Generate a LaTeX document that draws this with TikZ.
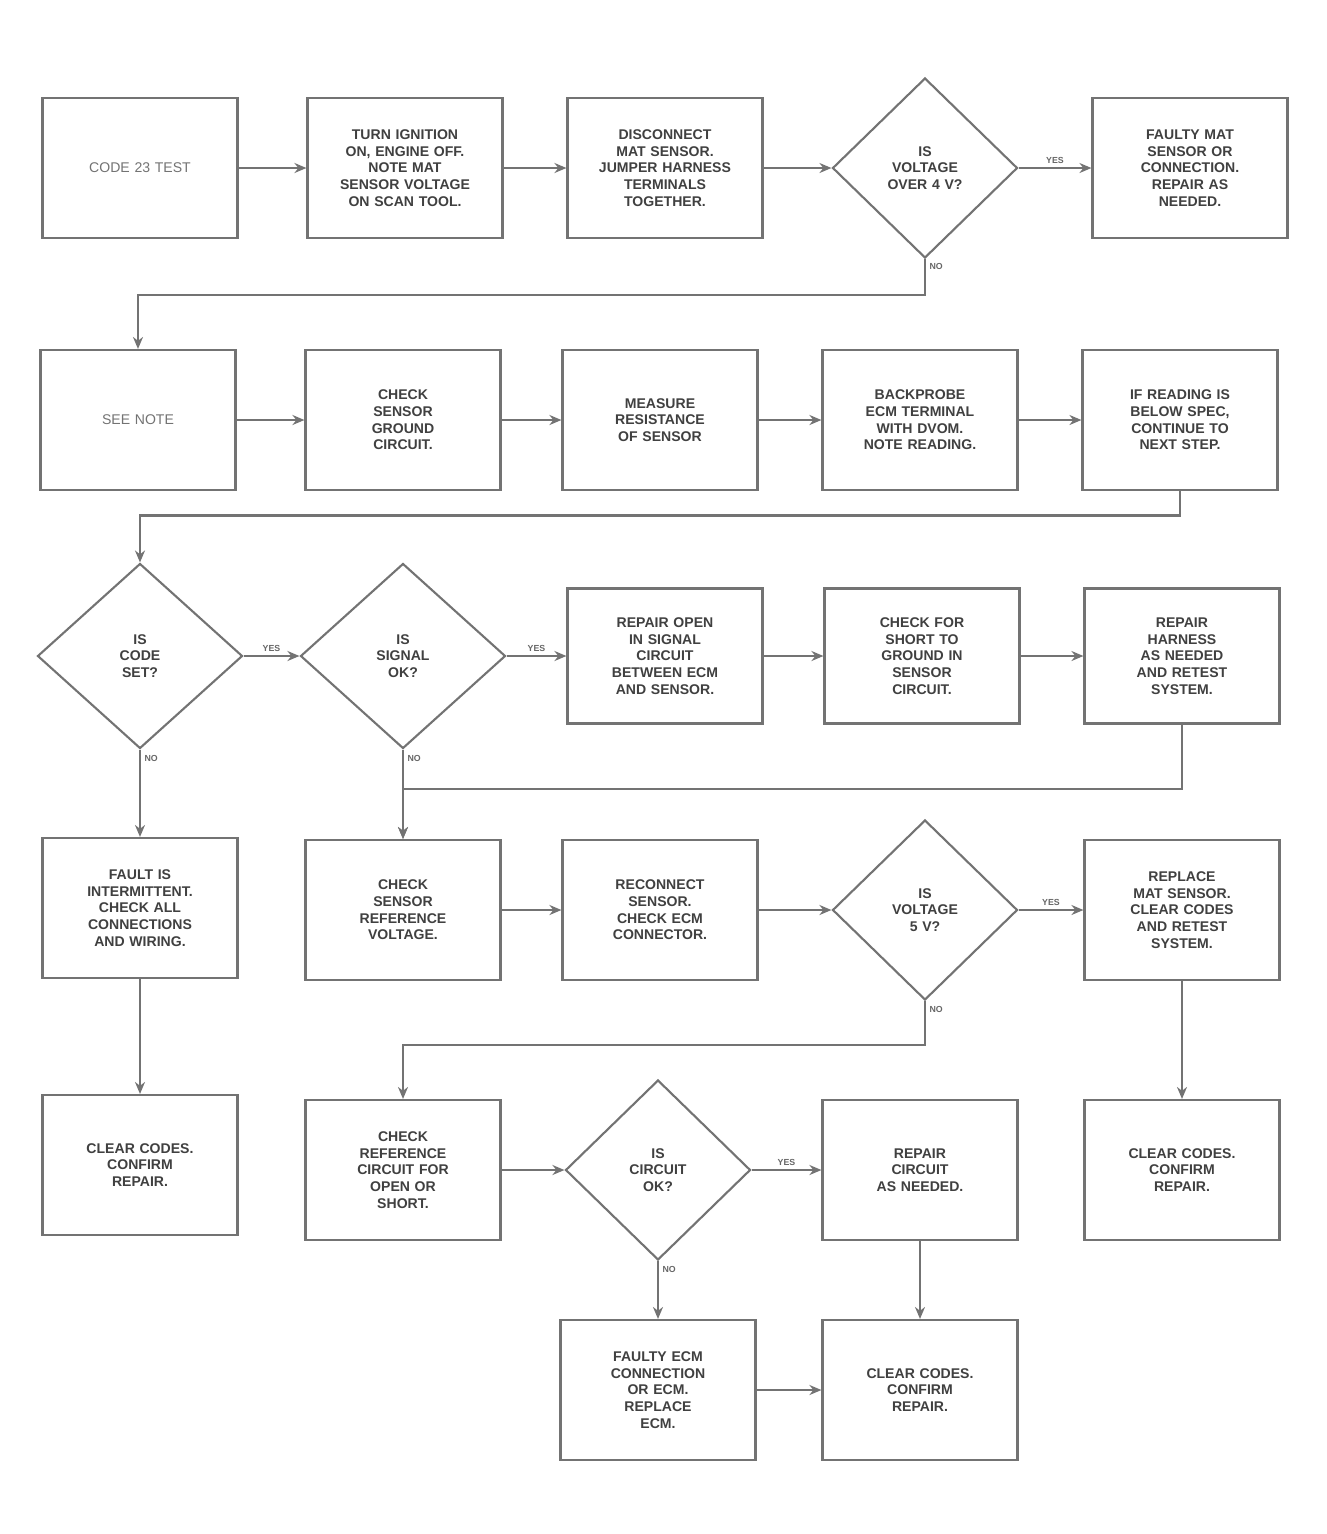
\documentclass[tikz,border=0pt]{standalone}
\usepackage{fontspec}
\setmainfont{Liberation Sans}
\usetikzlibrary{calc,shapes.geometric,arrows.meta}

\begin{document}
\begin{tikzpicture}[x=0.2mm,y=-0.2mm,
        block/.style={draw=black!55,line width=1.2pt,fill=white,rectangle,minimum width=39mm,minimum height=28mm,
                      text width=35mm,align=center,inner sep=2pt,font={\footnotesize\bfseries\hyphenpenalty=10000},text=black!75},
        plain/.style={block,font={\footnotesize},text=black!55},
        choice/.style={block,diamond,minimum width=37mm,minimum height=36mm,text width=17mm,inner sep=0pt},
        flow/.style={draw=black!55,line width=1.2pt,-{Stealth[length=2.4mm,width=2mm]}},
        answer/.style={font={\tiny\bfseries},text=black!60,inner sep=2pt}]
    \useasboundingbox (0,0) rectangle (1326,1534);

    \node[plain] (start) at (140,168) {CODE 23 TEST};
    \node[block] (ignon) at (405,168) {TURN IGNITION\\ ON, ENGINE OFF.\\ NOTE MAT\\ SENSOR VOLTAGE\\ ON SCAN TOOL.};
    \node[block] (jumper) at (665,168) {DISCONNECT\\ MAT SENSOR.\\ JUMPER HARNESS\\ TERMINALS\\ TOGETHER.};
    \node[choice] (overfour) at (925,168) {IS\\ VOLTAGE\\ OVER 4 V?};
    \node[block] (sensor) at (1190,168) {FAULTY MAT\\ SENSOR OR\\ CONNECTION.\\ REPAIR AS\\ NEEDED.};

    \node[plain] (note) at (138,420) {SEE NOTE};
    \node[block] (ground) at (403,420) {CHECK\\ SENSOR\\ GROUND\\ CIRCUIT.};
    \node[block] (ohms) at (660,420) {MEASURE\\ RESISTANCE\\ OF SENSOR};
    \node[block] (probe) at (920,420) {BACKPROBE\\ ECM TERMINAL\\ WITH DVOM.\\ NOTE READING.};
    \node[block] (reading) at (1180,420) {IF READING IS\\ BELOW SPEC,\\ CONTINUE TO\\ NEXT STEP.};

    \node[choice,minimum width=41mm,minimum height=37mm] (codeset) at (140,656) {IS\\ CODE\\ SET?};
    \node[choice,minimum width=41mm,minimum height=37mm] (signal) at (403,656) {IS\\ SIGNAL\\ OK?};
    \node[block,minimum height=27mm] (opensig) at (665,656) {REPAIR OPEN\\ IN SIGNAL\\ CIRCUIT\\ BETWEEN ECM\\ AND SENSOR.};
    \node[block,minimum height=27mm] (shortgnd) at (922,656) {CHECK FOR\\ SHORT TO\\ GROUND IN\\ SENSOR\\ CIRCUIT.};
    \node[block,minimum height=27mm] (harness) at (1182,656) {REPAIR\\ HARNESS\\ AS NEEDED\\ AND RETEST\\ SYSTEM.};

    \node[block] (intermit) at (140,908) {FAULT IS\\ INTERMITTENT.\\ CHECK ALL\\ CONNECTIONS\\ AND WIRING.};
    \node[block] (volts) at (403,910) {CHECK\\ SENSOR\\ REFERENCE\\ VOLTAGE.};
    \node[block] (reconn) at (660,910) {RECONNECT\\ SENSOR.\\ CHECK ECM\\ CONNECTOR.};
    \node[choice] (fivevolt) at (925,910) {IS\\ VOLTAGE\\ 5 V?};
    \node[block] (replsens) at (1182,910) {REPLACE\\ MAT SENSOR.\\ CLEAR CODES\\ AND RETEST\\ SYSTEM.};

    \node[block] (clearone) at (140,1165) {CLEAR CODES.\\ CONFIRM\\ REPAIR.};
    \node[block] (refopen) at (403,1170) {CHECK\\ REFERENCE\\ CIRCUIT FOR\\ OPEN OR\\ SHORT.};
    \node[choice] (refok) at (658,1170) {IS\\ CIRCUIT\\ OK?};
    \node[block] (repref) at (920,1170) {REPAIR\\ CIRCUIT\\ AS NEEDED.};
    \node[block] (cleartwo) at (1182,1170) {CLEAR CODES.\\ CONFIRM\\ REPAIR.};

    \node[block] (faultyecm) at (658,1390) {FAULTY ECM\\ CONNECTION\\ OR ECM.\\ REPLACE\\ ECM.};
    \node[block] (clearthree) at (920,1390) {CLEAR CODES.\\ CONFIRM\\ REPAIR.};

    \draw[flow] (start) -- (ignon);
    \draw[flow] (ignon) -- (jumper);
    \draw[flow] (jumper) -- (overfour);
    \draw[flow] (overfour) -- node[answer,above] (overyes) {YES} (sensor);
    \draw[flow] (overfour.south) -- node[answer,right,pos=0.2] (overno) {NO} (overfour.south |- 0,295) -| (note.north);

    \draw[flow] (note) -- (ground);
    \draw[flow] (ground) -- (ohms);
    \draw[flow] (ohms) -- (probe);
    \draw[flow] (probe) -- (reading);
    \draw[flow] (reading.south) |- ($(codeset.north)+(0,-47)$) -- (codeset.north);

    \draw[flow] (codeset) -- node[answer,above] (codeyes) {YES} (signal);
    \draw[flow] (signal) -- node[answer,above] (signalyes) {YES} (opensig);
    \draw[flow] (opensig) -- (shortgnd);
    \draw[flow] (shortgnd) -- (harness);
    \draw[flow] (codeset.south) -- node[answer,right,pos=0.1] (codeno) {NO} (intermit.north);
    \draw[flow] (signal.south) -- node[answer,right,pos=0.1] (signalno) {NO} (volts.north);
    \draw[flow] (harness.south) |- ($(volts.north)+(0,-50)$) -- (volts.north);

    \draw[flow] (volts) -- (reconn);
    \draw[flow] (reconn) -- (fivevolt);
    \draw[flow] (fivevolt) -- node[answer,above] (fiveyes) {YES} (replsens);
    \draw[flow] (fivevolt.south) -- node[answer,right,pos=0.2] (fiveno) {NO} (fivevolt.south |- 0,1045) -| (refopen.north);
    \draw[flow] (intermit) -- (clearone);
    \draw[flow] (replsens) -- (cleartwo);

    \draw[flow] (refopen) -- (refok);
    \draw[flow] (refok) -- node[answer,above] (refyes) {YES} (repref);
    \draw[flow] (refok.south) -- node[answer,right,pos=0.15] (refno) {NO} (faultyecm.north);
    \draw[flow] (repref) -- (clearthree);
    \draw[flow] (faultyecm) -- (clearthree);
\end{tikzpicture}
\end{document}
